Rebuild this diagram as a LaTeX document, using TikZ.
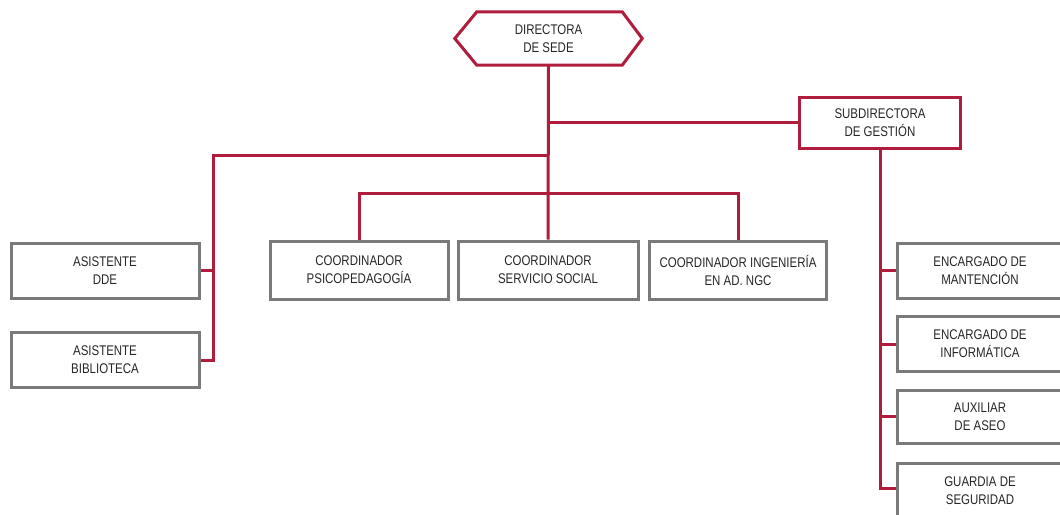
\documentclass[tikz,border=0pt]{standalone}
\usepackage{fontspec}
\setmainfont[FakeStretch=0.82]{Liberation Sans}
\definecolor{orgred}{HTML}{B01C3C}
\definecolor{boxgrey}{HTML}{7A7A7A}
\definecolor{txtgrey}{HTML}{262626}
\tikzset{
  lbl/.style={align=center, text=txtgrey, font=\fontsize{14}{18}\selectfont, inner sep=0pt},
  gbox/.style={lbl, draw=boxgrey, line width=3pt, minimum height=55pt},
  rbox/.style={lbl, draw=orgred, line width=3pt},
  link/.style={draw=orgred, line width=3pt},
}
\begin{document}
\begin{tikzpicture}[x=1pt,y=-1pt]
\useasboundingbox (0,0) rectangle (1060,514);
\clip (0,0) rectangle (1060,514);
\fill[white] (0,0) rectangle (1060,514);
% top
\node[lbl, minimum width=187pt, minimum height=53pt] (dir) at (548.5,38.5) {DIRECTORA\\DE SEDE};
\draw[link, line join=miter] (dir.west) -- ([xshift=22pt]dir.north west) -- ([xshift=-20pt]dir.north east)
  -- (dir.east) -- ([xshift=-20pt]dir.south east) -- ([xshift=22pt]dir.south west) -- cycle;
\node[rbox, minimum width=161pt, minimum height=51pt] (sub) at (880,122.5) {SUBDIRECTORA\\DE GESTIÓN};
% coordinators
\node[gbox, minimum width=178pt, minimum height=58pt] (psi) at (359,270) {COORDINADOR\\PSICOPEDAGOGÍA};
\node[gbox, minimum width=180pt, minimum height=58pt] (ser) at (548,270) {COORDINADOR\\SERVICIO SOCIAL};
\node[gbox, minimum width=177pt, minimum height=58pt] (ing) at (738,270) {COORDINADOR INGENIERÍA\\EN AD. NGC};
% left
\node[gbox, minimum width=188pt] (dde) at (105,270.5) {ASISTENTE\\DDE};
\node[gbox, minimum width=188pt] (bib) at (105,360) {ASISTENTE\\BIBLIOTECA};
% right
\node[gbox, minimum width=166pt] (man) at (980,270.5) {ENCARGADO DE\\MANTENCIÓN};
\node[gbox, minimum width=166pt] (inf) at (980,344) {ENCARGADO DE\\INFORMÁTICA};
\node[gbox, minimum width=166pt, minimum height=53pt] (ase) at (980,416.5) {AUXILIAR\\DE ASEO};
\node[gbox, minimum width=166pt] (gua) at (980,490.5) {GUARDIA DE\\SEGURIDAD};
% connectors
\coordinate (hub) at (548,193);
\coordinate (lj) at (213,155);
\draw[link] (dir.south) -- (ser.north);
\draw[link] (psi.north) |- (hub) -| (ing.north);
\draw[link] (dir.south |- sub.west) -- (sub.west);
\draw[link] (dir.south |- lj) -- (lj) |- (bib.east);
\draw[link] (dde.east) -- (dde.east -| lj);
\draw[link] (sub.south) -- ([yshift=2pt]sub.south |- gua.west) -- ([yshift=2pt]gua.west);
\draw[link] (sub.south |- man.west) -- (man.west);
\draw[link] (sub.south |- inf.west) -- (inf.west);
\draw[link] (sub.south |- ase.west) -- (ase.west);
\end{tikzpicture}
\end{document}
